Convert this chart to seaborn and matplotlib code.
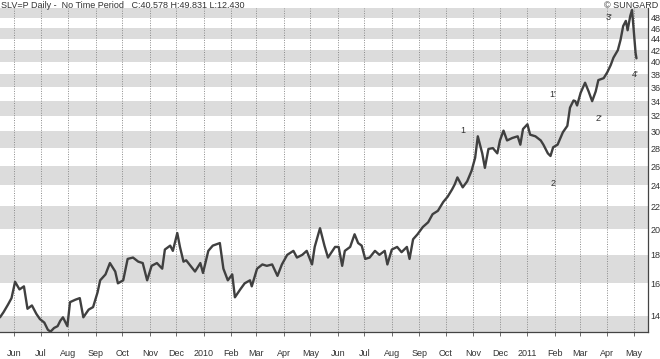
import matplotlib
matplotlib.use("Agg")
import matplotlib.pyplot as plt
import seaborn as sns
import pandas as pd

# ---- data ----
dates = [
    "2009-05-16", "2009-05-20", "2009-05-25", "2009-05-29", "2009-06-02", "2009-06-07",
    "2009-06-12", "2009-06-16", "2009-06-21", "2009-06-26", "2009-06-30", "2009-07-05",
    "2009-07-09", "2009-07-12", "2009-07-16", "2009-07-20", "2009-07-23", "2009-07-26",
    "2009-07-31", "2009-08-03", "2009-08-09", "2009-08-14", "2009-08-18", "2009-08-24",
    "2009-08-29", "2009-09-03", "2009-09-06", "2009-09-12", "2009-09-17", "2009-09-23",
    "2009-09-26", "2009-10-02", "2009-10-07", "2009-10-13", "2009-10-19", "2009-10-24",
    "2009-10-29", "2009-11-03", "2009-11-09", "2009-11-15", "2009-11-18", "2009-11-24",
    "2009-11-27", "2009-12-02", "2009-12-05", "2009-12-09", "2009-12-12", "2009-12-17",
    "2009-12-22", "2009-12-28", "2009-12-31", "2010-01-06", "2010-01-11", "2010-01-19",
    "2010-01-23", "2010-01-28", "2010-02-02", "2010-02-05", "2010-02-11", "2010-02-16",
    "2010-02-22", "2010-02-24", "2010-03-02", "2010-03-08", "2010-03-13", "2010-03-19",
    "2010-03-25", "2010-03-30", "2010-04-05", "2010-04-12", "2010-04-16", "2010-04-22",
    "2010-04-27", "2010-05-03", "2010-05-06", "2010-05-12", "2010-05-17", "2010-05-21",
    "2010-05-25", "2010-05-29", "2010-06-02", "2010-06-06", "2010-06-09", "2010-06-15",
    "2010-06-20", "2010-06-24", "2010-06-28", "2010-07-02", "2010-07-07", "2010-07-13",
    "2010-07-18", "2010-07-24", "2010-07-27", "2010-08-01", "2010-08-07", "2010-08-12",
    "2010-08-18", "2010-08-21", "2010-08-25", "2010-08-30", "2010-09-05", "2010-09-11",
    "2010-09-16", "2010-09-22", "2010-09-28", "2010-10-03", "2010-10-08", "2010-10-11",
    "2010-10-14", "2010-10-20", "2010-10-25", "2010-10-30", "2010-11-03", "2010-11-06",
    "2010-11-11", "2010-11-14", "2010-11-18", "2010-11-23", "2010-11-28", "2010-12-01",
    "2010-12-05", "2010-12-09", "2010-12-15", "2010-12-21", "2010-12-24", "2010-12-27",
    "2011-01-01", "2011-01-04", "2011-01-10", "2011-01-16", "2011-01-19", "2011-01-24",
    "2011-01-27", "2011-01-30", "2011-02-04", "2011-02-10", "2011-02-15", "2011-02-18",
    "2011-02-22", "2011-02-24", "2011-02-26", "2011-03-02", "2011-03-07", "2011-03-11",
    "2011-03-15", "2011-03-19", "2011-03-22", "2011-03-28", "2011-04-01", "2011-04-05",
    "2011-04-08", "2011-04-13", "2011-04-16", "2011-04-19", "2011-04-22", "2011-04-24",
    "2011-04-27", "2011-04-29", "2011-05-01", "2011-05-03", "2011-05-04",
]
prices = [
    13.9, 14.2, 14.65, 15.05, 16.1, 15.6,
    15.8, 14.4, 14.6, 14.1, 13.8, 13.6,
    13.2, 13.1, 13.3, 13.4, 13.7, 13.9,
    13.4, 14.8, 14.95, 15.05, 13.9, 14.35,
    14.5, 15.4, 16.2, 16.6, 17.4, 16.8,
    16.0, 16.2, 17.7, 17.8, 17.5, 17.4,
    16.2, 17.2, 17.4, 17.0, 18.4, 18.7,
    18.3, 19.7, 18.6, 17.5, 17.6, 17.2,
    16.8, 17.4, 16.7, 18.3, 18.7, 18.9,
    17.0, 16.2, 16.6, 15.1, 15.6, 16.0,
    16.2, 15.8, 17.0, 17.3, 17.2, 17.3,
    16.5, 17.3, 18.0, 18.3, 17.8, 18.0,
    18.3, 17.3, 18.6, 20.1, 18.7, 17.8,
    18.2, 18.6, 18.6, 17.2, 18.3, 18.6,
    19.6, 18.9, 18.7, 17.7, 17.8, 18.3,
    18.0, 18.3, 17.3, 18.4, 18.6, 18.2,
    18.6, 17.7, 19.2, 19.6, 20.2, 20.6,
    21.3, 21.6, 22.4, 22.9, 23.6, 24.1,
    24.8, 23.8, 24.4, 25.5, 26.9, 29.4,
    27.4, 25.8, 27.9, 28.0, 27.4, 28.9,
    30.1, 28.9, 29.2, 29.4, 28.4, 30.3,
    30.9, 29.6, 29.4, 28.9, 28.4, 27.4,
    27.1, 28.1, 28.4, 29.9, 30.7, 33.1,
    34.1, 34.0, 33.4, 35.2, 36.7, 35.4,
    34.0, 35.4, 37.1, 37.4, 38.3, 39.5,
    40.7, 42.0, 43.8, 46.4, 47.4, 45.6,
    48.4, 49.6, 45.4, 41.5, 40.6,
]
y_ticks = [14, 16, 18, 20, 22, 24, 26, 28, 30, 32, 34, 36, 38, 40, 42, 44, 46, 48]
wave_labels = ["1", "1'", "2", "2'", "3'", "4'"]
wave_dates = ["2010-10-20", "2011-01-30", "2011-01-30", "2011-03-23", "2011-04-03", "2011-05-03"]
wave_values = [30.1, 35.0, 24.2, 31.7, 48.0, 38.0]
title_text = "SLV=P Daily -  No Time Period   C:40.578 H:49.831 L:12.430"

df = pd.DataFrame({"date": pd.to_datetime(dates), "price": prices})

sns.set_style("white")
plt.rcParams["font.family"] = ["Liberation Sans", "DejaVu Sans"]

fig = plt.figure(figsize=(6.6, 3.59), dpi=100)
ax = fig.add_axes([0.0, 27 / 359, 648 / 660, (332 - 8) / 359])

# alternating horizontal bands
band_edges = [12, 16, 20, 24, 28, 32, 36, 40, 44, 48]
for lo in band_edges:
    ax.axhspan(lo, lo + 2, color="#dcdcdc", lw=0, zorder=0)

sns.lineplot(data=df, x="date", y="price", ax=ax, color="#404040", lw=1.7, zorder=3)

ax.set_yscale("log")
ax.set_ylim(13.08, 50.0)
ax.set_xlim(pd.Timestamp("2009-05-16"), pd.Timestamp("2011-05-17"))

ax.yaxis.tick_right()
ax.set_yticks(y_ticks)
ax.set_yticklabels([str(t) for t in y_ticks])
ax.yaxis.set_minor_locator(matplotlib.ticker.NullLocator())
ax.tick_params(axis="y", which="major", length=0, pad=2, labelsize=6.5, labelcolor="#333333")

months = pd.date_range("2009-06-01", "2011-05-01", freq="MS")
ax.set_xticks(months)
ax.set_xticklabels([str(m.year) if m.month == 1 else m.strftime("%b") for m in months])
ax.tick_params(axis="x", which="major", length=3, width=0.6, color="#555555",
               direction="out", pad=9, labelsize=6.5, labelcolor="#333333", bottom=True)
ax.xaxis.set_minor_locator(matplotlib.ticker.NullLocator())

ax.grid(axis="x", linestyle=(0, (1, 1.5)), color="#8a8a8a", lw=0.7, zorder=1)
ax.grid(axis="y", visible=False)
ax.set_axisbelow(True)

ax.set_xlabel("")
ax.set_ylabel("")
for side in ["top", "left"]:
    ax.spines[side].set_visible(False)
for side in ["right", "bottom"]:
    ax.spines[side].set_visible(True)
    ax.spines[side].set_color("#444444")
    ax.spines[side].set_linewidth(0.9)

for lab, d, v in zip(wave_labels, wave_dates, wave_values):
    ax.text(pd.Timestamp(d), v, lab, fontsize=6.5, color="#333333",
            ha="center", va="center", zorder=4)

fig.text(0.002, 0.998, title_text, fontsize=6.5, color="#333333", ha="left", va="top")
fig.text(0.998, 0.998, "\u00a9 SUNGARD", fontsize=6.5, color="#333333", ha="right", va="top")

fig.savefig("out.png", dpi=100, facecolor="white")
